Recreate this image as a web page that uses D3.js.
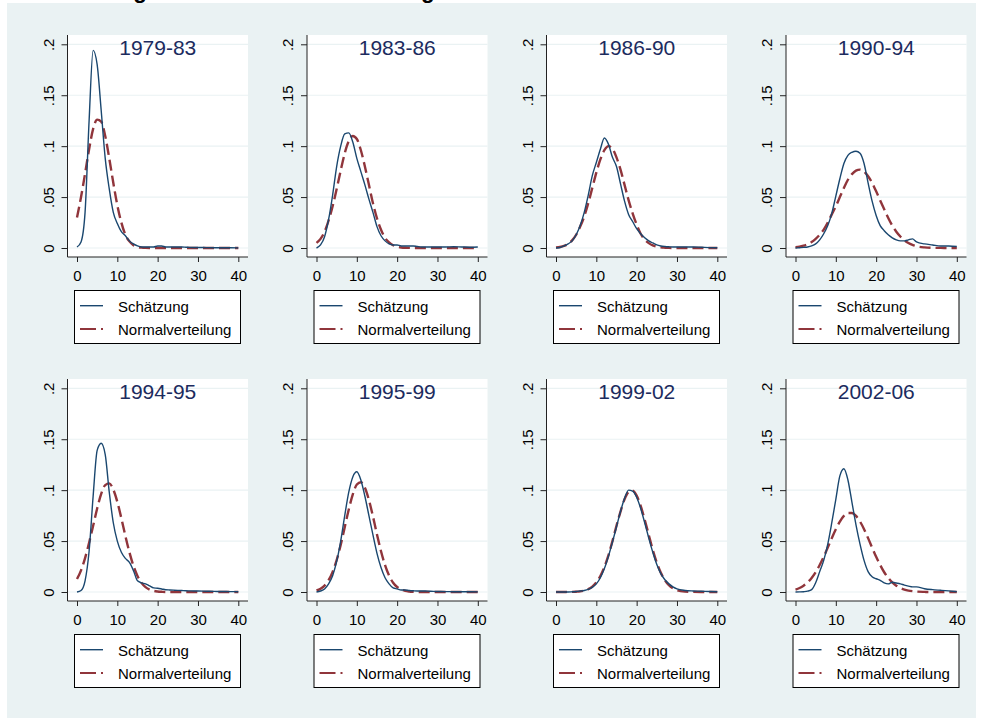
<!DOCTYPE html>
<html>
<head>
<meta charset="utf-8">
<script src="https://cdn.jsdelivr.net/npm/d3@7"></script>
<style>
  body { margin: 0; background: #fff; }
  text { font-family: Arial, "Liberation Sans", sans-serif; }
</style>
</head>
<body>
<div id="holder"></div>
<script>
// x grid the curves were read at
var xs = [0,1,2,3,4,5,6,7,8,9,10,11,12,13,14,15,16,17,18,19,20,21,22,23,24,25,26,27,28,29,30,32,34,36,38,40];

var periods = ['1979-83','1983-86','1986-90','1990-94','1994-95','1995-99','1999-02','2002-06'];

// kernel density estimates (Schätzung)
var kd_1979_83 = [.001,.006,.035,.125,.194,.180,.135,.088,.058,.035,.024,.016,.012,.007,.004,.002,.001,.001,.001,.001,.002,.002,.001,.001,.001,.001,.001,.0008,.0006,.0005,.0005,.0004,.0003,.0002,.0002,.0001];
var kd_1983_86 = [0,.003,.011,.028,.052,.080,.100,.112,.113,.104,.088,.075,.062,.048,.035,.021,.012,.007,.004,.003,.003,.002,.002,.002,.002,.0015,.001,.001,.001,.001,.001,.001,.0012,.001,.0008,.001];
var kd_1986_90 = [0,.0005,.002,.004,.007,.013,.022,.035,.052,.071,.084,.097,.108,.102,.089,.080,.063,.046,.033,.026,.019,.014,.010,.007,.005,.003,.002,.0015,.0012,.001,.001,.001,.001,.0007,.0004,.0002];
var kd_1990_94 = [0,.0003,.0006,.001,.002,.004,.008,.014,.022,.034,.051,.068,.083,.091,.094,.095,.093,.083,.064,.046,.032,.022,.017,.013,.010,.008,.007,.007,.008,.009,.006,.004,.003,.002,.002,.0015];
var kd_1994_95 = [0,.0015,.011,.040,.094,.139,.146,.135,.098,.068,.050,.039,.033,.029,.021,.011,.009,.008,.006,.004,.0037,.003,.0022,.002,.0018,.0016,.0014,.0012,.0011,.001,.001,.0008,.0006,.0005,.0004,.0003];
var kd_1995_99 = [0,.001,.003,.008,.016,.030,.050,.075,.098,.113,.118,.110,.094,.075,.056,.038,.024,.014,.008,.004,.003,.002,.002,.0015,.0012,.001,.001,.001,.0008,.0006,.0005,.0004,.0003,.0002,.0002,.0001];
var kd_1999_02 = [0,0,0,0,.0002,.0005,.001,.0015,.0025,.0045,.008,.014,.023,.035,.049,.064,.079,.092,.100,.099,.093,.082,.068,.053,.039,.027,.018,.012,.008,.005,.003,.0015,.001,.0008,.0005,.0003];
var kd_2002_06 = [0,.0001,.0003,.0008,.0023,.009,.020,.031,.047,.068,.091,.114,.121,.110,.088,.066,.047,.031,.020,.015,.013,.0115,.009,.008,.0095,.0088,.008,.0068,.0058,.005,.005,.0032,.0023,.0017,.0011,.0004];

// fitted normal densities (Normalverteilung)
var nv_1979_83 = [.030,.050,.073,.097,.117,.126,.124,.110,.088,.064,.042,.025,.013,.0065,.0028,.0011,.0004,.0001,0,0,0,0,0,0,0,0,0,0,0,0,0,0,0,0,0,0];
var nv_1983_86 = [.005,.009,.016,.027,.041,.058,.076,.093,.105,.110,.107,.096,.080,.062,.044,.029,.018,.010,.0055,.0027,.0012,.0005,.0002,.0001,0,0,0,0,0,0,0,0,0,0,0,0];
var nv_1986_90 = [.0005,.001,.002,.004,.0075,.013,.021,.031,.044,.059,.074,.087,.096,.100,.0975,.089,.077,.062,.047,.034,.023,.014,.0084,.0048,.0025,.0012,.0006,.0003,.0001,0,0,0,0,0,0,0];
var nv_1990_94 = [.0008,.0013,.0023,.0037,.0058,.0089,.013,.018,.025,.033,.041,.050,.059,.067,.0725,.076,.077,.075,.0705,.064,.0556,.0467,.038,.0295,.022,.016,.0113,.0076,.0049,.0031,.0018,.0006,.0002,.0001,0,0];
var nv_1994_95 = [.0127,.0213,.0333,.0484,.065,.082,.0964,.105,.1067,.1007,.0885,.0724,.055,.039,.0257,.0158,.009,.0048,.0024,.0011,.0005,.0002,0,0,0,0,0,0,0,0,0,0,0,0,0,0];
var nv_1995_99 = [.0015,.0032,.0063,.0116,.0198,.0314,.0462,.0636,.081,.0959,.1055,.1078,.1024,.0904,.0742,.0565,.040,.0264,.0161,.0091,.0049,.0024,.0011,.0005,.0002,0,0,0,0,0,0,0,0,0,0,0];
var nv_1999_02 = [0,0,0,.0001,.0001,.0003,.0006,.0014,.0028,.0053,.0094,.0157,.0246,.036,.050,.065,.079,.091,.098,.0994,.0946,.0845,.0709,.056,.0414,.0288,.0189,.0116,.0067,.0036,.0018,.0004,.0001,0,0,0];
var nv_2002_06 = [.0024,.0039,.0062,.0094,.0138,.0194,.0265,.0346,.0436,.0529,.0617,.0692,.0747,.0776,.0776,.0747,.0692,.0617,.0529,.0436,.0346,.0265,.0194,.0138,.0094,.0062,.0039,.0024,.0014,.0008,.0004,.0001,0,0,0,0];

var kernels = [kd_1979_83, kd_1983_86, kd_1986_90, kd_1990_94, kd_1994_95, kd_1995_99, kd_1999_02, kd_2002_06];
var normals = [nv_1979_83, nv_1983_86, nv_1986_90, nv_1990_94, nv_1994_95, nv_1995_99, nv_1999_02, nv_2002_06];

var yTicks = [0, .05, .1, .15, .2];
var yTickLabels = ['0', '.05', '.1', '.15', '.2'];
var xTicks = [0, 10, 20, 30, 40];
var legendLabels = ['Schätzung', 'Normalverteilung'];
var mainTitle = 'Verteilung der Lohnabstände im Vergleich';

var fullWidth = 986;
var fullHeight = 718;
var navy = '#1a476f';
var maroon = '#90353b';
var bg = '#eaf2f3';

// one panel's plot region
var pw = 180.5;
var ph = 222;
var colStep = 239.5;
var rowStep = 344;

var svg = d3.select('#holder').append('svg')
  .attr('width', fullWidth)
  .attr('height', fullHeight);

svg.append('rect')
  .attr('x', 7).attr('y', 3)
  .attr('width', 969).attr('height', 715)
  .attr('fill', bg);

// title, mostly cut off above the picture; only descenders show
var title = svg.append('text')
  .text(mainTitle)
  .attr('font-weight', 'bold')
  .attr('font-size', 20)
  .attr('fill', '#000')
  .attr('y', -2);
(function () {
  var n = title.node();
  var i1 = mainTitle.indexOf('g'), i2 = mainTitle.lastIndexOf('g');
  var c1 = n.getExtentOfChar(i1), c2 = n.getExtentOfChar(i2);
  var d = (c2.x + c2.width / 2) - (c1.x + c1.width / 2);
  var fs = 20 * 288 / d;
  title.attr('font-size', fs);
  c1 = n.getExtentOfChar(i1);
  title.attr('x', 140 - (c1.x + c1.width / 2));
})();

var xScale = d3.scaleLinear().domain([0, 40]).range([9.5, 170.8]);
var yScale = d3.scaleLinear().domain([0, 0.2]).range([213, 9.3]);

var line = d3.line()
  .x(function (d) { return xScale(d[0]); })
  .y(function (d) { return yScale(d[1]); })
  .curve(d3.curveMonotoneX);

periods.forEach(function (p, i) {
  var col = i % 4, row = Math.floor(i / 4);
  var ox = 67.5 + col * colStep;
  var oy = 35 + row * rowStep;

  var g = svg.append('g')
    .attr('transform', 'translate(' + ox + ',' + oy + ')');

  g.append('rect')
    .attr('width', pw).attr('height', ph)
    .attr('fill', '#fff');

  g.selectAll('line.grid')
    .data(yTicks)
    .enter().append('line')
    .classed('grid', true)
    .attr('x1', 0).attr('x2', pw)
    .attr('y1', function (d) { return yScale(d); })
    .attr('y2', function (d) { return yScale(d); })
    .attr('stroke', bg)
    .attr('stroke-width', 1.2);

  g.append('text')
    .attr('x', pw / 2).attr('y', 20)
    .attr('text-anchor', 'middle')
    .attr('font-size', 21)
    .attr('fill', '#1c2b5e')
    .text(p);

  g.append('path')
    .datum(xs.map(function (x, k) { return [x, normals[i][k]]; }))
    .attr('d', line)
    .attr('fill', 'none')
    .attr('stroke', maroon)
    .attr('stroke-width', 2.4)
    .attr('stroke-dasharray', '11,5');

  g.append('path')
    .datum(xs.map(function (x, k) { return [x, kernels[i][k]]; }))
    .attr('d', line)
    .attr('fill', 'none')
    .attr('stroke', navy)
    .attr('stroke-width', 1.4);

  var yaxis = d3.axisLeft(yScale)
    .tickValues(yTicks)
    .tickFormat(function (d, k) { return yTickLabels[k]; })
    .tickSize(6)
    .tickSizeOuter(0);
  var ya = g.append('g').classed('y axis', true).call(yaxis);
  ya.select('.domain').remove();
  ya.selectAll('text')
    .attr('x', 0).attr('y', -14).attr('dy', null)
    .attr('text-anchor', 'middle')
    .attr('transform', 'rotate(-90)')
    .attr('font-size', 15)
    .attr('font-family', null)
    .attr('fill', '#000');
  ya.selectAll('line').attr('stroke', '#222');

  var xaxis = d3.axisBottom(xScale)
    .tickValues(xTicks)
    .tickSize(5)
    .tickSizeOuter(0);
  var xa = g.append('g').classed('x axis', true)
    .attr('transform', 'translate(0,' + ph + ')')
    .call(xaxis);
  xa.select('.domain').remove();
  xa.selectAll('text')
    .attr('y', 23.5).attr('dy', null)
    .attr('font-size', 15)
    .attr('font-family', null)
    .attr('fill', '#000');
  xa.selectAll('line').attr('stroke', '#222');

  // axis lines across the whole plot region
  g.append('line')
    .attr('x1', 0).attr('x2', 0).attr('y1', 0).attr('y2', ph)
    .attr('stroke', '#222');
  g.append('line')
    .attr('x1', 0).attr('x2', pw).attr('y1', ph).attr('y2', ph)
    .attr('stroke', '#222');

  // legend
  var lg = g.append('g').attr('transform', 'translate(6.5,255)');
  lg.append('rect')
    .attr('x', 0.5).attr('y', 0.5)
    .attr('width', 166).attr('height', 53)
    .attr('fill', '#fff')
    .attr('stroke', '#000');
  lg.append('line')
    .attr('x1', 6).attr('x2', 29).attr('y1', 15.7).attr('y2', 15.7)
    .attr('stroke', navy).attr('stroke-width', 1.4);
  lg.append('line')
    .attr('x1', 6).attr('x2', 29).attr('y1', 39).attr('y2', 39)
    .attr('stroke', maroon).attr('stroke-width', 2)
    .attr('stroke-dasharray', '16,5');
  lg.selectAll('text')
    .data(legendLabels)
    .enter().append('text')
    .attr('x', 44)
    .attr('y', function (d, k) { return k === 0 ? 21.5 : 45; })
    .attr('font-size', 15)
    .attr('fill', '#000')
    .text(function (d) { return d; });
});
</script>
</body>
</html>
